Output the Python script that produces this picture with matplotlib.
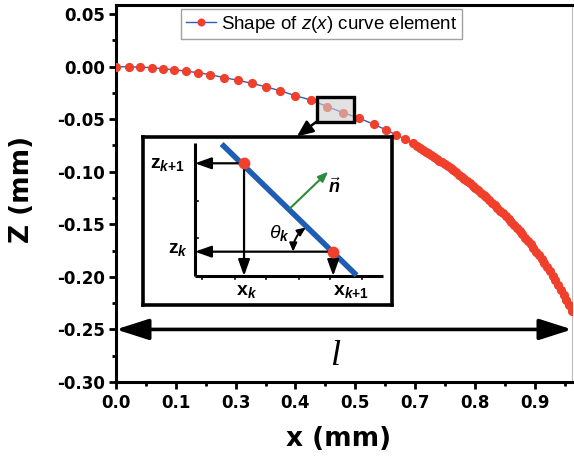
import matplotlib
matplotlib.use("Agg")
import matplotlib.pyplot as plt
from matplotlib.patches import Rectangle
import numpy as np

plt.rcParams['font.family'] = ['Liberation Sans', 'DejaVu Sans']
plt.rcParams['mathtext.fontset'] = 'custom'
plt.rcParams['mathtext.rm'] = 'Liberation Sans'
plt.rcParams['mathtext.it'] = 'Liberation Sans:italic'
plt.rcParams['mathtext.bf'] = 'Liberation Sans:bold'
plt.rcParams['mathtext.bfit'] = 'Liberation Sans:italic:bold'

# ---- data ----
x_sparse = [0.000, 0.028, 0.052, 0.078, 0.102, 0.126, 0.152, 0.178, 0.204, 0.235,
            0.265, 0.296, 0.326, 0.357, 0.389, 0.423, 0.459, 0.493, 0.528, 0.561,
            0.586, 0.609, 0.628, 0.645]
z_sparse = [0.0000, -0.0003, -0.0005, -0.0010, -0.0020, -0.0030, -0.0043, -0.0058, -0.0076, -0.0105,
            -0.0130, -0.0160, -0.0192, -0.0230, -0.0276, -0.0317, -0.0380, -0.0437, -0.0490, -0.0550,
            -0.0600, -0.0650, -0.0690, -0.0730]
x_dense = [0.655, 0.661, 0.667, 0.673, 0.679, 0.685, 0.691, 0.697, 0.703, 0.709,
           0.715, 0.721, 0.727, 0.733, 0.739, 0.745, 0.751, 0.757, 0.763, 0.769,
           0.775, 0.781, 0.787, 0.793, 0.799, 0.805, 0.811, 0.817, 0.823, 0.829,
           0.835, 0.841, 0.847, 0.853, 0.859, 0.865, 0.871, 0.877, 0.883, 0.889,
           0.895, 0.901, 0.907, 0.913, 0.919, 0.925, 0.931, 0.937, 0.943, 0.949,
           0.955, 0.961, 0.967, 0.973, 0.979, 0.985, 0.991]
z_dense = [-0.0759, -0.0775, -0.0792, -0.0808, -0.0825, -0.0841, -0.0859, -0.0877, -0.0894, -0.0912,
           -0.0930, -0.0949, -0.0968, -0.0987, -0.1007, -0.1027, -0.1047, -0.1068, -0.1088, -0.1110,
           -0.1131, -0.1153, -0.1175, -0.1198, -0.1220, -0.1244, -0.1268, -0.1293, -0.1318, -0.1343,
           -0.1369, -0.1395, -0.1422, -0.1449, -0.1477, -0.1506, -0.1535, -0.1564, -0.1595, -0.1626,
           -0.1659, -0.1691, -0.1725, -0.1759, -0.1794, -0.1832, -0.1869, -0.1907, -0.1947, -0.1988,
           -0.2031, -0.2075, -0.2122, -0.2170, -0.2219, -0.2272, -0.2327]
x_vals = x_sparse + x_dense
z_vals = z_sparse + z_dense

x_ticks = [0.0, 0.13, 0.26, 0.39, 0.52, 0.65, 0.78, 0.91]
x_ticklabels = ['0.0', '0.1', '0.3', '0.4', '0.5', '0.7', '0.8', '0.9']
y_ticks = [-0.30, -0.25, -0.20, -0.15, -0.10, -0.05, 0.00, 0.05]
y_ticklabels = ['-0.30', '-0.25', '-0.20', '-0.15', '-0.10', '-0.05', '0.00', '0.05']
legend_label = 'Shape of $\\mathit{z(x)}$ curve element'
length_level = -0.25           # level of the double arrow "l"
zoom_box = (0.436, -0.0523, 0.081, 0.0238)   # x, z, width, height of the grey box

W, H = 574, 463
fig = plt.figure(figsize=(W / 100, H / 100), dpi=100)
L, R, T, B = 116, 572, 5, 382
ax = fig.add_axes([L / W, 1 - B / H, (R - L) / W, (B - T) / H])

ax.plot(x_vals, z_vals, '-', color='#2a5fbf', lw=1.0, marker='o', ms=5.6,
        mfc='#f0402c', mec='#f0402c', label=legend_label, zorder=3)

ax.set_xlim(0, 0.991)
ax.set_ylim(-0.30, 0.0586)
ax.set_xticks(x_ticks)
ax.set_xticklabels(x_ticklabels)
ax.set_xticks([t + 0.065 for t in x_ticks], minor=True)
ax.set_yticks(y_ticks)
ax.set_yticklabels(y_ticklabels)
ax.set_yticks([-0.275, -0.225, -0.175, -0.125, -0.075, -0.025, 0.025], minor=True)

for lab in ax.get_xticklabels() + ax.get_yticklabels():
    lab.set_fontfamily('DejaVu Sans')
    lab.set_fontweight('bold')
    lab.set_fontsize(12)
ax.tick_params(which='major', direction='out', length=5, width=2, pad=3)
ax.tick_params(which='minor', direction='out', length=3, width=2)
ax.tick_params(axis='x', which='major', pad=4)
for s in ['left', 'bottom', 'top']:
    ax.spines[s].set_linewidth(2.2)
ax.spines['right'].set_linewidth(0.8)
ax.spines['right'].set_color('#bbbbbb')

ax.set_xlabel('x (mm)', fontsize=19, fontweight='bold', family='DejaVu Sans')
ax.set_ylabel('Z (mm)', fontsize=19, fontweight='bold', family='DejaVu Sans')
ax.xaxis.set_label_coords(0.489, -0.118)
ax.yaxis.set_label_coords(-0.178, 0.51)

leg = ax.legend(loc='upper left', bbox_to_anchor=(181 / W, 1 - 9 / H),
                bbox_transform=fig.transFigure, borderaxespad=0, fancybox=False,
                fontsize=13.5, handlelength=1.6, handletextpad=0.3,
                borderpad=0.25, markerscale=0.85)
leg.get_frame().set_edgecolor('#888888')
leg.get_frame().set_linewidth(1.0)

# grey zoom box on the curve
bx, bz, bw, bh = zoom_box
ax.add_patch(Rectangle((bx, bz), bw, bh, facecolor='#d0d0d0', alpha=0.6,
                       edgecolor='none', zorder=4))
ax.add_patch(Rectangle((bx, bz), bw, bh, facecolor='none', edgecolor='black',
                       lw=2.4, zorder=5))
ax.annotate('', xy=(0.393, -0.0665), xytext=(bx, bz),
            arrowprops=dict(arrowstyle='-|>,head_length=0.7,head_width=0.3',
                            mutation_scale=14, lw=1.8, color='black',
                            shrinkA=0, shrinkB=0), zorder=6)

# double arrow "l"
ax.annotate('', xy=(0.0, length_level), xytext=(0.991, length_level),
            arrowprops=dict(arrowstyle='<|-|>,head_length=1.0,head_width=0.32',
                            mutation_scale=20, lw=2.6, color='black',
                            shrinkA=0, shrinkB=0), annotation_clip=False)
ax.text(0.476, -0.276, 'l', fontsize=26, style='italic', family='Liberation Serif',
        ha='center', va='center')

# ---- inset schematic ----
iL, iR, iT, iB = 142.7, 391.7, 137.3, 305
ia = fig.add_axes([iL / W, 1 - iB / H, (iR - iL) / W, (iB - iT) / H])
ia.set_xlim(0, 1)
ia.set_ylim(0, 1)
ia.set_xticks([])
ia.set_yticks([])
for s in ia.spines.values():
    s.set_linewidth(2.6)
ia.set_zorder(5)

ox, oy = 0.210, 0.173
ia.plot([ox, ox], [oy, 0.968], color='black', lw=2.2, solid_capstyle='butt')
ia.plot([ox, 0.965], [oy, oy], color='black', lw=2.2, solid_capstyle='butt')
for tx in [0.237, 0.371, 0.494, 0.629, 0.752, 0.879]:
    ia.plot([tx, tx], [oy, oy - 0.02], color='black', lw=1.2)
for ty in [0.620, 0.400]:
    ia.plot([ox, ox + 0.012], [ty, ty], color='black', lw=1.2)

ia.plot([0.317, 0.859], [0.960, 0.177], color='#1f5db5', lw=4.0, solid_capstyle='butt')
p1 = (0.407, 0.845)
p2 = (0.765, 0.318)
ap = dict(arrowstyle='-|>,head_length=0.7,head_width=0.25', mutation_scale=14,
          lw=1.6, color='black', shrinkA=0, shrinkB=0)
ia.annotate('', xy=(ox, p1[1]), xytext=p1, arrowprops=ap)
ia.annotate('', xy=(p1[0], oy), xytext=p1, arrowprops=ap)
ia.annotate('', xy=(ox, p2[1]), xytext=p2, arrowprops=ap)
ia.annotate('', xy=(p2[0], oy), xytext=p2, arrowprops=ap)
ia.plot([p1[0], p2[0]], [p1[1], p2[1]], 'o', color='#f0402c', ms=7.5, zorder=5)

ia.annotate('', xy=(0.745, 0.795), xytext=(0.592, 0.577),
            arrowprops=dict(arrowstyle='-|>,head_length=0.5,head_width=0.2',
                            mutation_scale=12, lw=1.5, color='#2e8b3c',
                            shrinkA=0, shrinkB=0))
ia.text(0.770, 0.700, r'$\vec{\mathbfit{n}}$', fontsize=13, ha='center', va='center')

ia.annotate('', xy=(0.604, 0.318), xytext=(0.655, 0.462),
            arrowprops=dict(arrowstyle='<|-|>,head_length=0.5,head_width=0.22',
                            mutation_scale=10, lw=1.4, color='black',
                            shrinkA=0, shrinkB=0, connectionstyle='arc3,rad=0.25'))
ia.text(0.548, 0.430, r'$\mathit{\theta}_{\mathbfit{k}}$', fontsize=14, ha='center', va='center')

ia.text(0.100, 0.835, r'$\mathbf{z}_{\mathbfit{k}\mathbf{+1}}$', fontsize=14,
        ha='center', va='center')
ia.text(0.140, 0.330, r'$\mathbf{z}_{\mathbfit{k}}$', fontsize=14, ha='center', va='center')
ia.text(0.418, 0.080, r'$\mathbf{x}_{\mathbfit{k}}$', fontsize=14, ha='center', va='center')
ia.text(0.835, 0.080, r'$\mathbf{x}_{\mathbfit{k}\mathbf{+1}}$', fontsize=14,
        ha='center', va='center')

fig.savefig('out.png', dpi=100)
